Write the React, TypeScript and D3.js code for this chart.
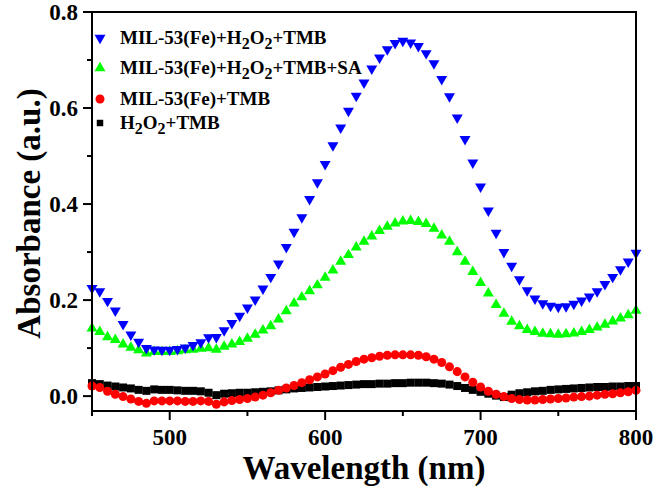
import React, { useEffect, useRef } from "react";
import * as d3 from "d3";

const wavelengths: number[] = d3.range(450, 801, 5);

const blueValues: number[] = [
  0.225, 0.218, 0.198, 0.178, 0.150, 0.128, 0.113, 0.100, 0.097, 0.096,
  0.096, 0.098, 0.101, 0.106, 0.112, 0.122, 0.123, 0.137, 0.152, 0.167,
  0.184, 0.201, 0.224, 0.248, 0.276, 0.310, 0.342, 0.372, 0.410, 0.445,
  0.483, 0.522, 0.559, 0.594, 0.625, 0.653, 0.682, 0.705, 0.722, 0.735,
  0.740, 0.736, 0.729, 0.714, 0.693, 0.660, 0.624, 0.580, 0.535, 0.486,
  0.436, 0.386, 0.340, 0.300, 0.271, 0.243, 0.220, 0.203, 0.193, 0.188,
  0.186, 0.187, 0.192, 0.199, 0.207, 0.218, 0.233, 0.248, 0.264, 0.280,
  0.298,
];

const greenValues: number[] = [
  0.141, 0.134, 0.123, 0.117, 0.108, 0.101, 0.096, 0.089, 0.092, 0.092,
  0.092, 0.094, 0.096, 0.097, 0.099, 0.100, 0.097, 0.103, 0.108, 0.113,
  0.120, 0.128, 0.137, 0.146, 0.160, 0.177, 0.193, 0.206, 0.219, 0.231,
  0.247, 0.262, 0.280, 0.294, 0.310, 0.322, 0.333, 0.344, 0.353, 0.360,
  0.364, 0.365, 0.363, 0.359, 0.349, 0.335, 0.322, 0.300, 0.280, 0.259,
  0.236, 0.214, 0.190, 0.172, 0.155, 0.146, 0.138, 0.134, 0.130, 0.129,
  0.128, 0.129, 0.131, 0.134, 0.138, 0.143, 0.149, 0.156, 0.162, 0.169,
  0.178,
];

const redValues: number[] = [
  0.021, 0.018, 0.010, 0.004, -0.001, -0.006, -0.011, -0.015, -0.010, -0.010,
  -0.010, -0.010, -0.011, -0.011, -0.010, -0.011, -0.017, -0.012, -0.009, -0.007,
  -0.005, -0.002, 0.002, 0.007, 0.012, 0.017, 0.022, 0.028, 0.034, 0.040,
  0.046, 0.053, 0.060, 0.066, 0.072, 0.077, 0.080, 0.083, 0.085, 0.086,
  0.086, 0.086, 0.085, 0.082, 0.077, 0.070, 0.061, 0.051, 0.040, 0.029,
  0.019, 0.010, 0.004, -0.001, -0.005, -0.007, -0.008, -0.008, -0.007, -0.006,
  -0.005, -0.004, -0.002, -0.001, 0.000, 0.002, 0.004, 0.005, 0.007, 0.009,
  0.012,
];

const blackValues: number[] = [
  0.027, 0.025, 0.022, 0.020, 0.018, 0.016, 0.013, 0.011, 0.014, 0.013,
  0.013, 0.012, 0.011, 0.011, 0.010, 0.007, 0.002, 0.005, 0.006, 0.007,
  0.007, 0.008, 0.009, 0.010, 0.012, 0.014, 0.016, 0.017, 0.018, 0.019,
  0.020, 0.021, 0.022, 0.023, 0.024, 0.025, 0.025, 0.026, 0.026, 0.027,
  0.027, 0.028, 0.028, 0.028, 0.027, 0.026, 0.024, 0.021, 0.017, 0.013,
  0.009, 0.005, 0.001, -0.002, 0.003, 0.006, 0.008, 0.010, 0.011, 0.013,
  0.014, 0.015, 0.016, 0.017, 0.018, 0.019, 0.019, 0.020, 0.020, 0.021,
  0.021,
];

const xTicks: number[] = [500, 600, 700, 800];
const xMinorTicks: number[] = [450, 550, 650, 750];
const yTicks: number[] = [0.0, 0.2, 0.4, 0.6, 0.8];
const yMinorTicks: number[] = [0.1, 0.3, 0.5, 0.7];

type Part = [string, boolean];
const legendLabels: Part[][] = [
  [["MIL-53(Fe)+H", false], ["2", true], ["O", false], ["2", true], ["+TMB", false]],
  [["MIL-53(Fe)+H", false], ["2", true], ["O", false], ["2", true], ["+TMB+SA", false]],
  [["MIL-53(Fe)+TMB", false]],
  [["H", false], ["2", true], ["O", false], ["2", true], ["+TMB", false]],
];

const W = 660;
const H = 493;
const FONT = "'Liberation Serif', 'Times New Roman', serif";

export default function App() {
  const ref = useRef<SVGSVGElement | null>(null);

  useEffect(() => {
    const svg = d3.select(ref.current);
    svg.selectAll("*").remove();

    const left = 92, right = 636, top = 12, bottom = 411;
    const x = d3.scaleLinear().domain([450, 800]).range([left, right]);
    const y = d3.scaleLinear().domain([-0.031, 0.8]).range([bottom, top]);

    svg.append("rect").attr("width", W).attr("height", H).attr("fill", "#fff");

    const series = [
      { values: blackValues, color: "#000000", shape: "square" },
      { values: redValues, color: "#ff0000", shape: "circle" },
      { values: greenValues, color: "#00ff00", shape: "up" },
      { values: blueValues, color: "#0000ff", shape: "down" },
    ];

    const symPath = (shape: string) => {
      if (shape === "square") return d3.symbol(d3.symbolSquare, 64)()!;
      if (shape === "circle") return d3.symbol(d3.symbolCircle, 64)()!;
      return d3.symbol(d3.symbolTriangle, 52)()!;
    };

    const gData = svg.append("g");
    series.forEach((s) => {
      const path = symPath(s.shape);
      gData
        .append("g")
        .selectAll("path")
        .data(s.values.map((v, i) => [wavelengths[i], v] as [number, number]))
        .join("path")
        .attr("d", path)
        .attr("fill", s.color)
        .attr("transform", (d) =>
          `translate(${x(d[0])},${y(d[1])})` + (s.shape === "down" ? " rotate(180)" : "")
        );
    });

    // frame
    svg
      .append("rect")
      .attr("x", left)
      .attr("y", top)
      .attr("width", right - left)
      .attr("height", bottom - top)
      .attr("fill", "none")
      .attr("stroke", "#000")
      .attr("stroke-width", 2);

    // x ticks
    const gx = svg.append("g");
    xTicks.forEach((t) => {
      gx.append("line").attr("x1", x(t)).attr("x2", x(t)).attr("y1", bottom).attr("y2", bottom + 9)
        .attr("stroke", "#000").attr("stroke-width", 2);
      gx.append("text").attr("x", x(t)).attr("y", bottom + 34).attr("text-anchor", "middle")
        .attr("font-family", FONT).attr("font-weight", "bold").attr("font-size", 23).text(String(t));
    });
    xMinorTicks.forEach((t) => {
      gx.append("line").attr("x1", x(t)).attr("x2", x(t)).attr("y1", bottom).attr("y2", bottom + 5)
        .attr("stroke", "#000").attr("stroke-width", 2);
    });

    // y ticks
    const gy = svg.append("g");
    yTicks.forEach((t) => {
      gy.append("line").attr("x1", left - 9).attr("x2", left).attr("y1", y(t)).attr("y2", y(t))
        .attr("stroke", "#000").attr("stroke-width", 2);
      gy.append("text").attr("x", left - 14).attr("y", y(t) + 8).attr("text-anchor", "end")
        .attr("font-family", FONT).attr("font-weight", "bold").attr("font-size", 23).text(t.toFixed(1));
    });
    yMinorTicks.forEach((t) => {
      gy.append("line").attr("x1", left - 5).attr("x2", left).attr("y1", y(t)).attr("y2", y(t))
        .attr("stroke", "#000").attr("stroke-width", 2);
    });

    // axis titles
    svg.append("text").attr("x", (left + right) / 2).attr("y", 479).attr("text-anchor", "middle")
      .attr("font-family", FONT).attr("font-weight", "bold").attr("font-size", 33).text("Wavelength (nm)");
    svg.append("text").attr("transform", `translate(40,${(top + bottom) / 2 + 2}) rotate(-90)`)
      .attr("text-anchor", "middle")
      .attr("font-family", FONT).attr("font-weight", "bold").attr("font-size", 33).text("Absorbance (a.u.)");

    // legend
    const legendY = [38, 68, 99, 123];
    const legendSeries = [series[3], series[2], series[1], series[0]];
    legendSeries.forEach((s, i) => {
      const path = s.shape === "square" ? d3.symbol(d3.symbolSquare, 42)()! : symPath(s.shape);
      svg.append("path").attr("d", path).attr("fill", s.color)
        .attr("transform", `translate(100,${legendY[i]})` + (s.shape === "down" ? " rotate(180)" : ""));
      const txt = svg.append("text").attr("x", 120).attr("y", legendY[i] + 6)
        .attr("font-family", FONT).attr("font-weight", "bold").attr("font-size", 19);
      let sub = false;
      legendLabels[i].forEach(([str, isSub]) => {
        const ts = txt.append("tspan").text(str);
        if (isSub && !sub) { ts.attr("dy", 5).attr("font-size", 16); sub = true; }
        else if (isSub && sub) { ts.attr("font-size", 16); }
        else if (!isSub && sub) { ts.attr("dy", -5); sub = false; }
      });
    });
  }, []);

  return (
    <svg
      ref={ref}
      width={W}
      height={H}
      style={{ position: "absolute", left: 0, top: 0 }}
    />
  );
}
